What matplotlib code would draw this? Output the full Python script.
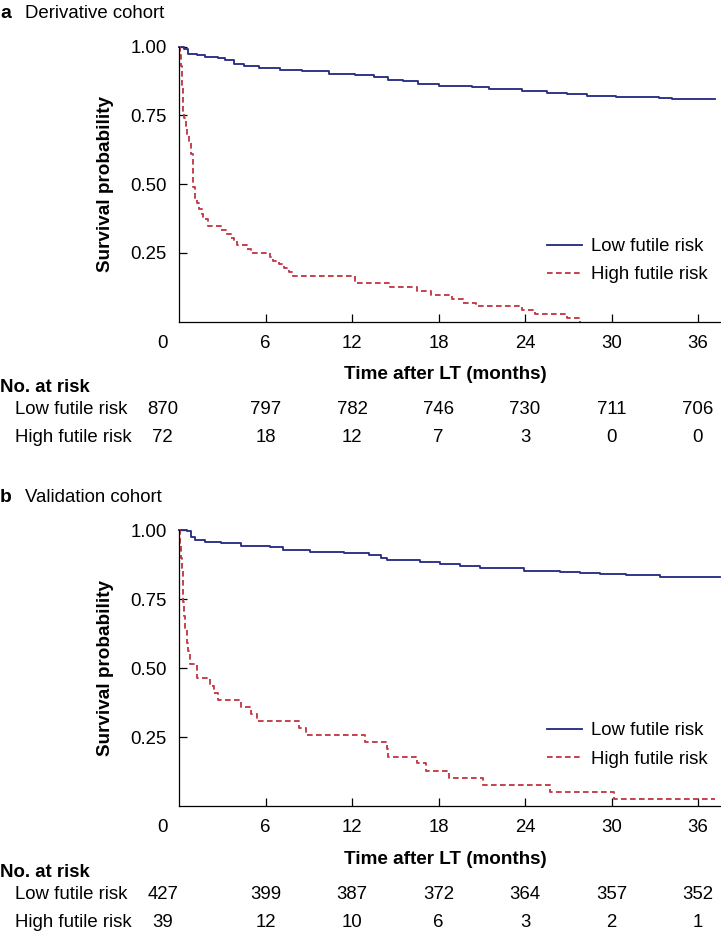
import matplotlib
matplotlib.use("Agg")
import matplotlib.pyplot as plt

plt.rcParams['font.family'] = ['Liberation Sans', 'DejaVu Sans']

W, H = 721, 938
FS = 13.4
BLUE = '#2a2f84'
RED = '#c53a48'

# ---- data (months, survival probability) ----
# a: derivative cohort
a_low_t = [0, 0.3, 0.63, 1.2, 1.8, 2.7, 3.2, 3.8, 4.5, 5.5, 7.0, 8.5, 10.4, 12.2,
           13.5, 14.5, 15.5, 16.6, 18.0, 20.3, 21.5, 23.8, 25.5, 26.9, 28.3,
           30.3, 33.3, 34.2, 36.1, 37.2]
a_low_s = [1.0, 0.99, 0.975, 0.968, 0.962, 0.958, 0.95, 0.937, 0.93, 0.922, 0.915,
           0.91, 0.902, 0.896, 0.888, 0.88, 0.874, 0.866, 0.858, 0.853, 0.845,
           0.838, 0.833, 0.828, 0.822, 0.818, 0.813, 0.811, 0.808, 0.808]
a_high_t = [0, 0.05, 0.1, 0.17, 0.22, 0.28, 0.35, 0.46, 0.55, 0.65, 0.79, 0.93,
            1.09, 1.25, 1.39, 1.55, 1.67, 2.0, 2.9, 3.3, 3.6, 3.8, 4.0, 4.7, 5.0,
            6.3, 6.5, 6.9, 7.3, 7.6, 7.9, 12.2, 14.6, 16.5, 17.5, 18.9, 19.7,
            20.6, 23.8, 24.7, 26.9, 27.8]
a_high_s = [1.0, 0.97, 0.93, 0.90, 0.85, 0.76, 0.74, 0.71, 0.68, 0.65, 0.61, 0.49,
            0.45, 0.43, 0.41, 0.39, 0.375, 0.347, 0.333, 0.319, 0.306, 0.292,
            0.278, 0.264, 0.25, 0.236, 0.222, 0.208, 0.194, 0.18, 0.167, 0.139,
            0.125, 0.111, 0.097, 0.083, 0.069, 0.056, 0.042, 0.028, 0.014, 0.0]
a_risk_low = [870, 797, 782, 746, 730, 711, 706]
a_risk_high = [72, 18, 12, 7, 3, 0, 0]

# b: validation cohort
b_low_t = [0, 0.5, 0.8, 1.1, 1.8, 2.9, 4.3, 6.3, 7.2, 9.1, 11.4, 13.2, 14.0, 14.4,
           16.7, 18.1, 19.5, 20.9, 23.9, 26.4, 27.8, 29.2, 31.0, 33.4, 35.0, 37.5]
b_low_s = [1.0, 0.995, 0.975, 0.964, 0.956, 0.952, 0.943, 0.94, 0.927, 0.922,
           0.917, 0.91, 0.9, 0.891, 0.883, 0.877, 0.87, 0.862, 0.853, 0.849,
           0.845, 0.84, 0.836, 0.831, 0.83, 0.829]
b_high_t = [0, 0.05, 0.1, 0.18, 0.24, 0.28, 0.35, 0.42, 0.5, 0.63, 0.74, 1.2, 2.1,
            2.4, 2.7, 4.3, 5.0, 5.4, 8.3, 8.8, 12.9, 14.4, 14.5, 16.5, 17.1,
            18.7, 21.1, 25.7, 30.2, 37.2]
b_high_s = [1.0, 0.95, 0.90, 0.85, 0.82, 0.74, 0.69, 0.64, 0.59, 0.56, 0.513,
            0.462, 0.436, 0.41, 0.385, 0.359, 0.333, 0.308, 0.282, 0.256, 0.231,
            0.205, 0.179, 0.154, 0.128, 0.103, 0.077, 0.051, 0.026, 0.026]
b_risk_low = [427, 399, 387, 372, 364, 357, 352]
b_risk_high = [39, 12, 10, 6, 3, 2, 1]

risk_times = [0, 6, 12, 18, 24, 30, 36]
x_ticks = [6, 12, 18, 24, 30, 36]
y_ticks = [0.25, 0.50, 0.75, 1.00]
groups = ['Low futile risk', 'High futile risk']

X0, X1 = 179.3, 721.0     # axes left/right in pixels
XMAX = 37.6


def fx(px):
    return px / W


def fy(py):
    return 1 - py / H


def t2px(t):
    return X0 + t * (X1 - X0) / XMAX


def panel(fig, top, bottom, letter, title, lt, ls, ht, hs, nlow, nhigh):
    ax = fig.add_axes([fx(X0), fy(bottom), fx(X1) - fx(X0), fy(top) - fy(bottom)])
    ax.step(lt, ls, where='post', color=BLUE, lw=1.35, clip_on=False,
            label=groups[0])
    ax.step(ht, hs, where='post', color=RED, lw=1.35, clip_on=False,
            dashes=(3, 1.8), label=groups[1])
    ax.set_xlim(0, XMAX)
    ax.set_ylim(0, 1.0)
    ax.set_xticks(x_ticks)
    ax.set_xticklabels([str(v) for v in x_ticks])
    ax.set_yticks(y_ticks)
    ax.set_yticklabels(['%.2f' % v for v in y_ticks])
    for s in ['top', 'right']:
        ax.spines[s].set_visible(False)
    for s in ['left', 'bottom']:
        ax.spines[s].set_linewidth(0.9)
    ax.tick_params(direction='in', length=6, width=0.9, labelsize=FS)
    ax.tick_params(axis='x', pad=9.5)
    ax.tick_params(axis='y', pad=9)
    ax.annotate('0', xy=(0, 0), xycoords='data', xytext=(-12, -9.5),
                textcoords='offset points', ha='center', va='top', fontsize=FS,
                annotation_clip=False)

    ax.legend(loc='center left', bbox_to_anchor=(fx(546.7), fy(bottom - 61)),
              bbox_transform=fig.transFigure, frameon=False, fontsize=FS,
              handlelength=1.9, handletextpad=0.5, labelspacing=0.6,
              borderpad=0, borderaxespad=0)

    # titles and labels
    fig.text(fx(0), fy(top - 33), letter, fontsize=FS + 0.5, fontweight='bold',
             ha='left', va='center')
    fig.text(fx(25), fy(top - 33), title, fontsize=FS, ha='left', va='center')
    fig.text(fx(105), fy((top + bottom) / 2), 'Survival probability',
             fontsize=FS + 0.2, fontweight='bold', rotation=90,
             ha='center', va='center')
    fig.text(fx(445), fy(bottom + 53), 'Time after LT (months)',
             fontsize=FS + 0.2, fontweight='bold', ha='center', va='center')

    # number at risk table
    fig.text(fx(0), fy(bottom + 66), 'No. at risk', fontsize=FS,
             fontweight='bold', ha='left', va='center')
    for row, (name, counts) in enumerate(zip(groups, [nlow, nhigh])):
        yy = fy(bottom + 88 + row * 28)
        fig.text(fx(15), yy, name, fontsize=FS, ha='left', va='center')
        for t, n in zip(risk_times, counts):
            xp = t2px(t) if t > 0 else t2px(0) - 16.6
            fig.text(fx(xp), yy, str(n), fontsize=FS, ha='center', va='center')
    return ax


fig = plt.figure(figsize=(W / 100, H / 100), dpi=100)
panel(fig, 46.7, 321.7, 'a', 'Derivative cohort',
      a_low_t, a_low_s, a_high_t, a_high_s, a_risk_low, a_risk_high)
panel(fig, 530.0, 806.0, 'b', 'Validation cohort',
      b_low_t, b_low_s, b_high_t, b_high_s, b_risk_low, b_risk_high)

fig.savefig('out.png', dpi=100)
